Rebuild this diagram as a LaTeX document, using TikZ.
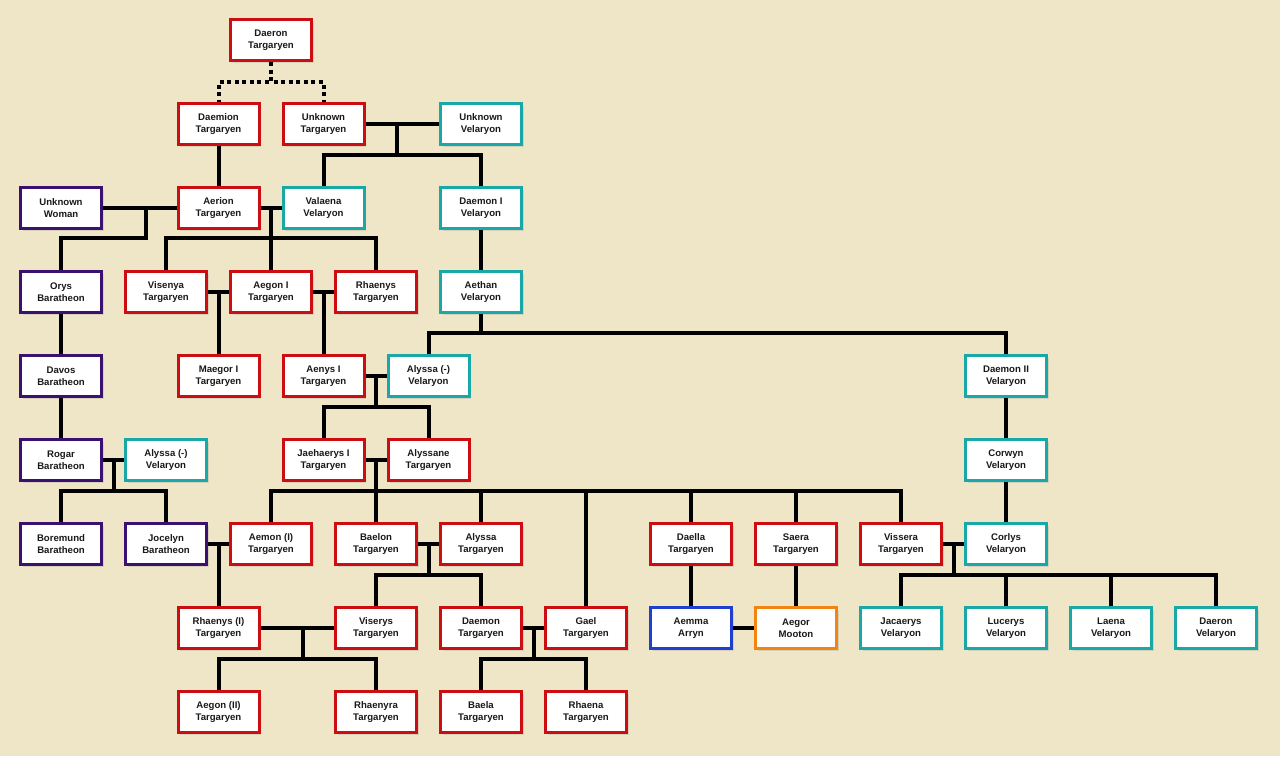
\documentclass[tikz,border=0pt]{standalone}
\usepackage{fontspec}
\setmainfont{Liberation Sans}
\usetikzlibrary{shadows}
\definecolor{bgc}{RGB}{239,230,200}
\definecolor{tred}{RGB}{204,14,18}
\definecolor{vteal}{RGB}{24,168,168}
\definecolor{bpurp}{RGB}{58,16,112}
\definecolor{ablue}{RGB}{32,62,208}
\definecolor{morange}{RGB}{242,132,16}
\tikzset{
  pers/.style={draw, fill=white, line width=3pt, minimum width=81pt,
               minimum height=41pt, inner sep=1pt, align=center,
               font=\fontsize{9.6}{12}\selectfont\bfseries, text=black!90,
               drop shadow={shadow xshift=2pt, shadow yshift=-2pt, opacity=0.2}},
  targ/.style={pers, draw=tred},
  vel/.style={pers, draw=vteal},
  bara/.style={pers, draw=bpurp},
  arryn/.style={pers, draw=ablue},
  moot/.style={pers, draw=morange},
  tie/.style={line width=4pt, draw=black},
  tiedot/.style={tie, dash pattern=on 4pt off 3.5pt},
}

\begin{document}
\begin{tikzpicture}[x=1pt, y=-1pt]
  \fill[bgc] (0,0) rectangle (1280,756);

  \node[targ] (daeron) at (271,40) {Daeron\\Targaryen};

  \node[targ] (daemion) at (218.5,124) {Daemion\\Targaryen};
  \node[targ] (unktarg) at (323.5,124) {Unknown\\Targaryen};
  \node[vel] (unkvel) at (481,124) {Unknown\\Velaryon};

  \node[bara] (unkwoman) at (61,208) {Unknown\\Woman};
  \node[targ] (aerion) at (218.5,208) {Aerion\\Targaryen};
  \node[vel] (valaena) at (323.5,208) {Valaena\\Velaryon};
  \node[vel] (daemoni) at (481,208) {Daemon I\\Velaryon};

  \node[bara] (orys) at (61,292) {Orys\\Baratheon};
  \node[targ] (visenya) at (166,292) {Visenya\\Targaryen};
  \node[targ] (aegoni) at (271,292) {Aegon I\\Targaryen};
  \node[targ] (rhaenys) at (376,292) {Rhaenys\\Targaryen};
  \node[vel] (aethan) at (481,292) {Aethan\\Velaryon};

  \node[bara] (davos) at (61,376) {Davos\\Baratheon};
  \node[targ] (maegor) at (218.5,376) {Maegor I\\Targaryen};
  \node[targ] (aenys) at (323.5,376) {Aenys I\\Targaryen};
  \node[vel] (alyssav) at (428.5,376) {Alyssa (-)\\Velaryon};
  \node[vel] (daemonii) at (1006,376) {Daemon II\\Velaryon};

  \node[bara] (rogar) at (61,460) {Rogar\\Baratheon};
  \node[vel] (alyssavb) at (166,460) {Alyssa (-)\\Velaryon};
  \node[targ] (jaehaerys) at (323.5,460) {Jaehaerys I\\Targaryen};
  \node[targ] (alyssane) at (428.5,460) {Alyssane\\Targaryen};
  \node[vel] (corwyn) at (1006,460) {Corwyn\\Velaryon};

  \node[bara] (boremund) at (61,544) {Boremund\\Baratheon};
  \node[bara] (jocelyn) at (166,544) {Jocelyn\\Baratheon};
  \node[targ] (aemon) at (271,544) {Aemon (I)\\Targaryen};
  \node[targ] (baelon) at (376,544) {Baelon\\Targaryen};
  \node[targ] (alyssat) at (481,544) {Alyssa\\Targaryen};
  \node[targ] (daella) at (691,544) {Daella\\Targaryen};
  \node[targ] (saera) at (796,544) {Saera\\Targaryen};
  \node[targ] (vissera) at (901,544) {Vissera\\Targaryen};
  \node[vel] (corlys) at (1006,544) {Corlys\\Velaryon};

  \node[targ] (rhaenysi) at (218.5,628) {Rhaenys (I)\\Targaryen};
  \node[targ] (viserys) at (376,628) {Viserys\\Targaryen};
  \node[targ] (daemon) at (481,628) {Daemon\\Targaryen};
  \node[targ] (gael) at (586,628) {Gael\\Targaryen};
  \node[arryn] (aemma) at (691,628) {Aemma\\Arryn};
  \node[moot] (aegor) at (796,628) {Aegor\\Mooton};
  \node[vel] (jacaerys) at (901,628) {Jacaerys\\Velaryon};
  \node[vel] (lucerys) at (1006,628) {Lucerys\\Velaryon};
  \node[vel] (laena) at (1111,628) {Laena\\Velaryon};
  \node[vel] (daeronv) at (1216,628) {Daeron\\Velaryon};

  \node[targ] (aegonii) at (218.5,712) {Aegon (II)\\Targaryen};
  \node[targ] (rhaenyra) at (376,712) {Rhaenyra\\Targaryen};
  \node[targ] (baela) at (481,712) {Baela\\Targaryen};
  \node[targ] (rhaena) at (586,712) {Rhaena\\Targaryen};

  % marriage points
  \coordinate (m1) at (397,124);
  \coordinate (m2) at (146,208);
  \coordinate (m3) at (271,208);
  \coordinate (m4) at (218.5,292);
  \coordinate (m5) at (323.5,292);
  \coordinate (m6) at (376,376);
  \coordinate (m7) at (114,460);
  \coordinate (m8) at (376,460);
  \coordinate (m9) at (218.5,544);
  \coordinate (m10) at (428.5,544);
  \coordinate (m11) at (953.5,544);
  \coordinate (m12) at (303,628);
  \coordinate (m13) at (533.5,628);

  \draw[tiedot] (daeron.south) -- ++(0,20) -| (daemion.north);
  \draw[tiedot] (daeron.south) -- ++(0,20) -| (unktarg.north);

  \draw[tie] (unktarg) -- (unkvel);
  \foreach \c in {valaena,daemoni}
    \draw[tie] (m1) -- ++(0,31) -| (\c.north);
  \draw[tie] (daemion) -- (aerion);
  \draw[tie] (unkwoman) -- (aerion);
  \draw[tie] (m2) -- ++(0,30) -| (orys.north);
  \draw[tie] (aerion) -- (valaena);
  \foreach \c in {visenya,aegoni,rhaenys}
    \draw[tie] (m3) -- ++(0,30) -| (\c.north);
  \draw[tie] (daemoni) -- (aethan);
  \draw[tie] (orys) -- (davos);
  \draw[tie] (davos) -- (rogar);
  \draw[tie] (visenya) -- (aegoni);
  \draw[tie] (m4) -- (maegor.north);
  \draw[tie] (aegoni) -- (rhaenys);
  \draw[tie] (m5) -- (aenys.north);
  \foreach \c in {alyssav,daemonii}
    \draw[tie] (aethan.south) -- ++(0,19) -| (\c.north);
  \draw[tie] (aenys) -- (alyssav);
  \foreach \c in {jaehaerys,alyssane}
    \draw[tie] (m6) -- ++(0,31) -| (\c.north);
  \draw[tie] (rogar) -- (alyssavb);
  \foreach \c in {boremund,jocelyn}
    \draw[tie] (m7) -- ++(0,31) -| (\c.north);
  \draw[tie] (jaehaerys) -- (alyssane);
  \foreach \c in {aemon,baelon,alyssat,gael,daella,saera,vissera}
    \draw[tie] (m8) -- ++(0,31) -| (\c.north);
  \draw[tie] (daemonii) -- (corwyn);
  \draw[tie] (corwyn) -- (corlys);
  \draw[tie] (jocelyn) -- (aemon);
  \draw[tie] (m9) -- (rhaenysi.north);
  \draw[tie] (baelon) -- (alyssat);
  \foreach \c in {viserys,daemon}
    \draw[tie] (m10) -- ++(0,31) -| (\c.north);
  \draw[tie] (daella) -- (aemma);
  \draw[tie] (saera) -- (aegor);
  \draw[tie] (vissera) -- (corlys);
  \foreach \c in {jacaerys,lucerys,laena,daeronv}
    \draw[tie] (m11) -- ++(0,31) -| (\c.north);
  \draw[tie] (rhaenysi) -- (viserys);
  \foreach \c in {aegonii,rhaenyra}
    \draw[tie] (m12) -- ++(0,31) -| (\c.north);
  \draw[tie] (daemon) -- (gael);
  \foreach \c in {baela,rhaena}
    \draw[tie] (m13) -- ++(0,31) -| (\c.north);
  \draw[tie] (aemma) -- (aegor);
\end{tikzpicture}
\end{document}
